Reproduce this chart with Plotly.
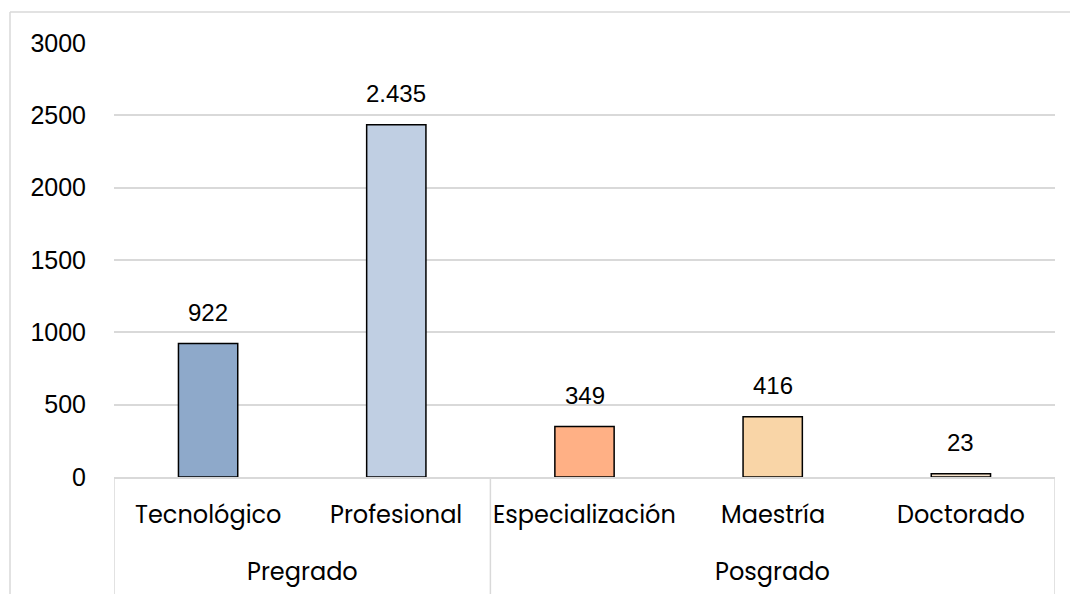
import plotly.graph_objects as go

# Enrolment by academic level
groups = ["Pregrado", "Pregrado", "Posgrado", "Posgrado", "Posgrado"]
levels = ["Tecnológico", "Profesional", "Especialización", "Maestría", "Doctorado"]
values = [922, 2435, 349, 416, 23]
colors = ["#8EA9CA", "#C0CFE3", "#FFB085", "#F9D5A7", "#F8E4CC"]
y_ticks = [0, 500, 1000, 1500, 2000, 2500, 3000]

GRID = "#D9D9D9"
LABEL_FONT = "Poppins, Open Sans, sans-serif"


def fmt(v):
    return f"{v:,}".replace(",", ".")


fig = go.Figure(
    go.Bar(
        x=levels,
        y=values,
        marker=dict(color=colors, line=dict(color="#000000", width=1.5)),
        width=0.315,
        hoverinfo="skip",
    )
)

annotations = []
# value labels above each bar
for lvl, v in zip(levels, values):
    annotations.append(dict(
        x=lvl, y=v, xref="x", yref="y", text=fmt(v), showarrow=False,
        yanchor="bottom", yshift=16,
        font=dict(family="Liberation Sans, Arial", size=24, color="#000000"),
    ))
# level labels under the axis
for lvl in levels:
    annotations.append(dict(
        x=lvl, y=0, xref="x", yref="paper", text=lvl, showarrow=False,
        yanchor="middle", yshift=-37,
        font=dict(family=LABEL_FONT, size=24, color="#000000"),
    ))
# group labels centred under their levels
group_names = []
for g in groups:
    if g not in group_names:
        group_names.append(g)
for g in group_names:
    idx = [i for i, gg in enumerate(groups) if gg == g]
    annotations.append(dict(
        x=(idx[0] + idx[-1]) / 2, y=0, xref="x", yref="paper", text=g,
        showarrow=False, yanchor="middle", yshift=-94,
        font=dict(family=LABEL_FONT, size=24, color="#000000"),
    ))

shapes = []
# group dividers below the axis
bounds = [-0.5]
for i in range(1, len(groups)):
    if groups[i] != groups[i - 1]:
        bounds.append(i - 0.5)
bounds.append(len(groups) - 0.5)
for b in bounds:
    shapes.append(dict(type="line", xref="x", yref="paper", x0=b, x1=b,
                       y0=0, y1=-0.3, line=dict(color=GRID, width=1.5)))
# outer chart frame (top and left edges)
shapes.append(dict(type="line", xref="paper", yref="paper",
                   x0=-104 / 941, x1=1.02, y0=1 + 31 / 434, y1=1 + 31 / 434,
                   line=dict(color=GRID, width=1.5)))
shapes.append(dict(type="line", xref="paper", yref="paper",
                   x0=-104 / 941, x1=-104 / 941, y0=1 + 31 / 434, y1=-0.3,
                   line=dict(color=GRID, width=1.5)))

fig.update_layout(
    width=1070, height=594,
    margin=dict(l=114, r=15, t=43, b=117),
    paper_bgcolor="white", plot_bgcolor="white",
    showlegend=False,
    bargap=0.68,
    annotations=annotations,
    shapes=shapes,
    xaxis=dict(
        range=[-0.5, 4.5], showticklabels=False, ticks="",
        showgrid=False, showline=True, linecolor=GRID, linewidth=1.5,
        zeroline=False, fixedrange=True,
    ),
    yaxis=dict(
        range=[0, 3000], tickvals=y_ticks, ticktext=[str(t) for t in y_ticks],
        showgrid=True, gridcolor=GRID, gridwidth=1.5, zeroline=False,
        showline=False, ticks="", ticklabelstandoff=27,
        tickfont=dict(family="Liberation Sans, Arial", size=25, color="#000000"),
        fixedrange=True,
    ),
)

fig.write_html("out.html", config={"displayModeBar": False})
